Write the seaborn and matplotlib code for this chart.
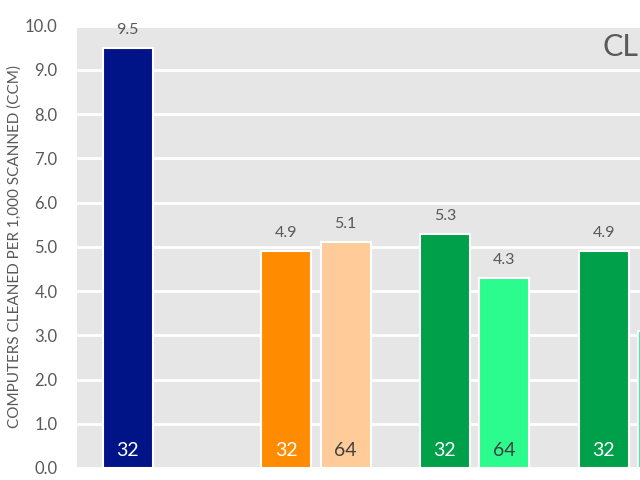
import numpy as np
import pandas as pd
import matplotlib
matplotlib.use("Agg")
import matplotlib.pyplot as plt
import seaborn as sns

# ---- data ----
groups = ["Windows XP SP3", "Windows Vista SP2", "Windows 7 RTM", "Windows 7 SP1"]
bit_levels = ["32", "64"]
ccm_32 = [9.5, 4.9, 5.3, 4.9]
ccm_64 = [np.nan, 5.1, 4.3, 3.1]
colors_32 = ["#001488", "#FF8C00", "#00A04A", "#00A04A"]
colors_64 = [None, "#FFCC99", "#2CFC8E", "#2CFC8E"]
ytick_vals = [0, 1, 2, 3, 4, 5, 6, 7, 8, 9, 10]
ylabel = "COMPUTERS CLEANED PER 1,000 SCANNED (CCM)"
title_text = "CL"

rows = []
for g, v32, v64 in zip(groups, ccm_32, ccm_64):
    rows.append({"group": g, "bits": "32", "ccm": v32})
    rows.append({"group": g, "bits": "64", "ccm": v64})
df = pd.DataFrame(rows).dropna()

sns.set_theme(style="white")
plt.rcParams["font.family"] = ["Lato", "DejaVu Sans"]
grey = "#595959"

fig = plt.figure(figsize=(6.4, 4.8), dpi=100)
ax = fig.add_axes([77 / 640, 12 / 480, 1 - 77 / 640, (468 - 25.75) / 480])
ax.set_facecolor("#E6E6E6")

sns.barplot(data=df, x="group", y="ccm", hue="bits", order=groups,
            hue_order=bit_levels, width=0.75, gap=0.16, dodge=True,
            edgecolor="white", linewidth=1.5, legend=False, ax=ax, zorder=3,
            err_kws={"linewidth": 0})

color_map = {"32": colors_32, "64": colors_64}
text_col = {"32": "white", "64": "#404040"}
for container, lvl in zip(ax.containers, bit_levels):
    for bar in container:
        h = bar.get_height()
        if np.isnan(h):
            continue
        xc = bar.get_x() + bar.get_width() / 2
        gi = int(round(xc))
        bar.set_facecolor(color_map[lvl][gi])
        ax.annotate(f"{h:.1f}", xy=(xc, h), xytext=(0, 13),
                    textcoords="offset points", ha="center", va="center",
                    fontsize=11.5, color=grey, zorder=5)
        ax.annotate(lvl, xy=(xc, 0), xytext=(0, 12.5),
                    textcoords="offset points", ha="center", va="center",
                    fontsize=14, color=text_col[lvl], zorder=5)

ax.set_ylim(0, 10)
ax.set_xlim(-0.506, 3.042)
ax.set_yticks(ytick_vals)
ax.set_yticklabels([f"{v:.1f}" for v in ytick_vals], fontsize=12, color=grey)
ax.tick_params(axis="y", length=0, pad=14)
ax.set_xticks([])
ax.set_xlabel("")
ax.set_ylabel(ylabel, fontsize=11, color=grey)
ax.yaxis.set_label_coords(-0.098, 0.5)
ax.yaxis.grid(True, color="white", linewidth=2, zorder=1)
ax.set_axisbelow(True)
for s in ax.spines.values():
    s.set_visible(False)

fig.text(639 / 640, 1 - 47 / 480, title_text, fontsize=22, color=grey,
         ha="right", va="center")

fig.savefig("out.png", dpi=100)
